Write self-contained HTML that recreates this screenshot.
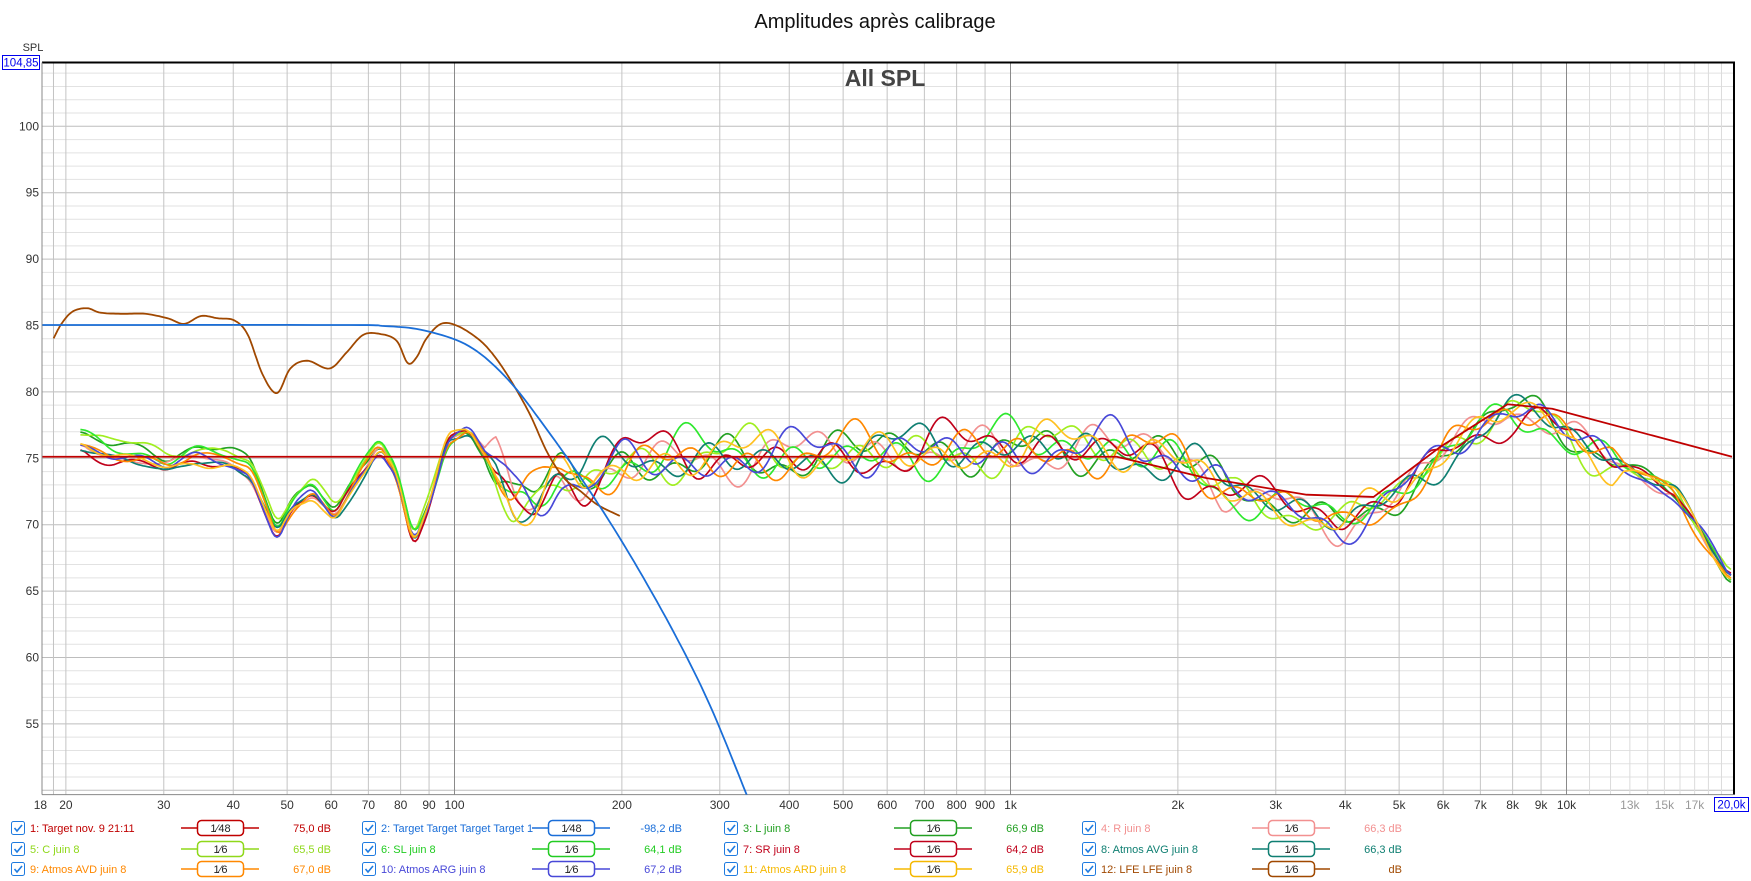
<!DOCTYPE html>
<html><head><meta charset="utf-8"><style>
html,body{margin:0;padding:0;background:#fff;}
svg{display:block;font-family:"Liberation Sans",sans-serif;}
</style></head><body>
<svg id="s" width="1751" height="881" xmlns="http://www.w3.org/2000/svg"></svg>
<script>
const S=document.getElementById('s');
let out='';
const X0=42,X1=1733,Y0=62.5,Y1=794.6;
const fx=f=>454.5+556*(Math.log10(f)-2);
const fy=v=>126.3+(100-v)*13.28;
out+=`<text x="875" y="28" font-size="20" text-anchor="middle" fill="#111">Amplitudes après calibrage</text>`;
for(let v=50;v<=104;v++){const y=fy(v);if(y>Y1-1)continue;out+=`<line x1="${X0}" x2="${X1}" y1="${y}" y2="${y}" stroke="${v%5==0?'#bdbdbd':'#e2e2e2'}" stroke-width="1"/>`;}
let freqs=[];
for(let d of [10,100,1000]){for(let m=1;m<10;m++){const f=m*d;if(f>=18&&f<=10000)freqs.push(f);}}
freqs.push(19);
for(const f of freqs){const x=fx(f);let c=(f==100||f==1000)?'#8a8a8a':'#c4c4c4';out+=`<line x1="${x}" x2="${x}" y1="${Y0}" y2="${Y1}" stroke="${c}"/>`;}
out+=`<line x1="${fx(10000)}" x2="${fx(10000)}" y1="${Y0}" y2="${Y1}" stroke="#8a8a8a"/>`;
for(let f=11000;f<20000;f+=1000){const x=fx(f);out+=`<line x1="${x}" x2="${x}" y1="${Y0}" y2="${Y1}" stroke="#dcdcdc"/>`;}
out+=`<line x1="${X0}" x2="${X1+2}" y1="${Y0}" y2="${Y0}" stroke="#000" stroke-width="2"/>`;
out+=`<line x1="${X0}" x2="${X0}" y1="${Y0}" y2="${Y1}" stroke="#888"/>`;
out+=`<line x1="${X0}" x2="${X1}" y1="${Y1}" y2="${Y1}" stroke="#888"/>`;
out+=`<line x1="${X1+1}" x2="${X1+1}" y1="${Y0}" y2="${Y1}" stroke="#000" stroke-width="2"/>`;
for(let v=55;v<=100;v+=5){out+=`<text x="39" y="${fy(v)+4}" font-size="12" text-anchor="end" fill="#333">${v}</text>`;}
out+=`<text x="33" y="51" font-size="11" text-anchor="middle" fill="#333">SPL</text>`;
out+=`<rect x="2.5" y="55.5" width="37" height="14" fill="#fff" stroke="#0000ee"/><text x="21" y="66.5" font-size="11.5" text-anchor="middle" fill="#0000ee">104,85</text>`;
const xl=[[18,'18'],[20,'20'],[30,'30'],[40,'40'],[50,'50'],[60,'60'],[70,'70'],[80,'80'],[90,'90'],[100,'100'],[200,'200'],[300,'300'],[400,'400'],[500,'500'],[600,'600'],[700,'700'],[800,'800'],[900,'900'],[1000,'1k'],[2000,'2k'],[3000,'3k'],[4000,'4k'],[5000,'5k'],[6000,'6k'],[7000,'7k'],[8000,'8k'],[9000,'9k'],[10000,'10k']];
for(const [f,t] of xl)out+=`<text x="${fx(f)}" y="809" font-size="12" text-anchor="middle" fill="#333">${t}</text>`;
for(const [f,t] of [[13000,'13k'],[15000,'15k'],[17000,'17k']])out+=`<text x="${fx(f)}" y="809" font-size="12" text-anchor="middle" fill="#999">${t}</text>`;
out+=`<rect x="1714.5" y="797.5" width="34" height="14" fill="#fff" stroke="#0000ee"/><text x="1731.5" y="808.5" font-size="11.5" text-anchor="middle" fill="#0000ee">20,0k</text>`;
out+=`<text x="885" y="86" font-size="23" font-weight="bold" text-anchor="middle" fill="#444">All SPL</text>`;
const K=1751/1568;
let g=`<g clip-path="url(#cp)"><g transform="scale(${K})" fill="none" stroke-linejoin="round">`;
function path(pts,col,w){let d='M'+pts.map(p=>p[0].toFixed(1)+','+p[1].toFixed(1)).join(' L');g+=`<path d="${d}" stroke="${col}" stroke-width="${w}"/>`;}
function smooth(ctrl){
 let r=[];for(let i=0;i<ctrl.length-1;i++){const p0=ctrl[Math.max(i-1,0)],p1=ctrl[i],p2=ctrl[i+1],p3=ctrl[Math.min(i+2,ctrl.length-1)];
 for(let t=0;t<1;t+=0.1){const t2=t*t,t3=t2*t;const f=(a,b,c,d)=>0.5*((2*b)+(-a+c)*t+(2*a-5*b+4*c-d)*t2+(-a+3*b-3*c+d)*t3);r.push([f(p0[0],p1[0],p2[0],p3[0]),f(p0[1],p1[1],p2[1],p3[1])]);}}
 r.push(ctrl[ctrl.length-1]);return r;}
const base=[[72,398],[100,410],[130,412],[150,420],[175,410],[205,415],[225,425],[248,482],[262,455],[280,440],[300,465],[320,430],[340,400],[355,425],[370,488],[385,450],[400,395],[420,385],[440,415],[460,450],[480,450],[500,425],[520,435],[560,410],[600,410],[700,410],[800,405],[900,400],[1000,402],[1050,410],[1100,440],[1150,450],[1200,470],[1250,445],[1300,400],[1350,370],[1380,372],[1420,400],[1460,420],[1500,440],[1530,488],[1551,520]];
function bi(x){for(let i=0;i<base.length-1;i++){if(x<=base[i+1][0]){const t=(x-base[i][0])/(base[i+1][0]-base[i][0]);return base[i][1]+t*(base[i+1][1]-base[i][1]);}}return base[base.length-1][1];}
const series=[
 ['#22a022',1,-10,0.3],['#f29090',2,0,1.1],['#a0ee20',3,-12,2.0],['#2ee82e',4,-8,2.7],['#c0001a',5,2,3.4],
 ['#0f7f72',6,2,4.1],['#ff8800',7,-2,4.9],['#4848d8',8,0,5.6],['#ffc020',9,1,6.3]];
for(const [c,seed,off,ph] of series){
 let pts=[];
 for(let x=72;x<=1551;x+=2){
  let a=x<440?0.35:(x<1100?1.5:(x<1450?1.1:0.5));
  let n=Math.sin(x*0.045+ph*3)*7+Math.sin(x*0.13+seed*1.7)*7+Math.sin(x*0.07+seed*2.9)*5+Math.sin(x*0.021+seed)*4;
  let o=x<300?off:off*Math.max(0,1-(x-300)/100);
  pts.push([x,bi(x)+o+n*a]);
 }
 let sm=[];for(let i=0;i<pts.length;i++){let s=0,k=0;for(let j=-2;j<=2;j++){const q=pts[i+j];if(q){s+=q[1];k++;}}sm.push([pts[i][0],s/k]);}
 path(sm,c,1.5);
}
path(smooth([[48,303],[55,290],[65,279],[78,276],[90,280],[110,281],[130,281],[150,285],[165,290],[180,283],[195,285],[210,287],[222,300],[235,335],[248,352],[260,330],[275,323],[295,330],[310,316],[325,300],[340,299],[355,305],[365,325],[373,320],[382,303],[395,290],[410,292],[430,305],[445,322],[460,345],[475,372],[490,405],[505,428],[520,440],[535,452],[555,462]]),'#a04800',1.6);
path([[38,409],[1000,409],[1080,428],[1170,443],[1230,445],[1290,400],[1350,362],[1390,366],[1551,409]],'#c00000',1.6);
path(smooth([[38,291],[300,291],[345,292],[380,296],[420,310],[455,340],[490,385],[525,435],[560,490],[600,560],[635,630],[670,715]]),'#1a6ed8',1.6);
g+='</g></g>';
out+=`<defs><clipPath id="cp"><rect x="${X0}" y="${Y0}" width="${X1-X0}" height="${Y1-Y0}"/></clipPath></defs>`+g;
const leg=[
 [0,0,'1: Target nov. 9 21:11','#c00000','48','75,0 dB'],[1,0,'2: Target Target Target Target 1','#1a6ed8','48','-98,2 dB'],[2,0,'3: L juin 8','#22a022','6','66,9 dB'],[3,0,'4: R juin 8','#f29090','6','66,3 dB'],
 [0,1,'5: C juin 8','#8fd81a','6','65,5 dB'],[1,1,'6: SL juin 8','#22cc22','6','64,1 dB'],[2,1,'7: SR juin 8','#c0001a','6','64,2 dB'],[3,1,'8: Atmos AVG juin 8','#0f7f72','6','66,3 dB'],
 [0,2,'9: Atmos AVD juin 8','#ff8800','6','67,0 dB'],[1,2,'10: Atmos ARG juin 8','#4848d8','6','67,2 dB'],[2,2,'11: Atmos ARD juin 8','#f5b800','6','65,9 dB'],[3,2,'12: LFE LFE juin 8','#a04800','6','dB']];
const cx=[11,362,724,1082],ry=[828,849,869];
for(const [c,r,t,col,sm,val] of leg){const x=cx[c],y=ry[r];
 out+=`<rect x="${x+0.5}" y="${y-6.5}" width="13" height="13" rx="2" fill="#fff" stroke="#1e7be0"/><path d="M${x+3.5},${y} L${x+6},${y+3} L${x+11},${y-3}" stroke="#1e7be0" stroke-width="1.6" fill="none"/>`;
 out+=`<text x="${x+19}" y="${y+4}" font-size="11" fill="${col}">${t}</text>`;
 out+=`<line x1="${x+170}" x2="${x+248}" y1="${y}" y2="${y}" stroke="${col}" stroke-width="1.5"/>`;
 out+=`<rect x="${x+186.5}" y="${y-7.5}" width="46" height="15" rx="4" fill="#fff" stroke="${col}" stroke-width="1.5"/>`;
 out+=`<text x="${x+209.5}" y="${y+4}" font-size="11" text-anchor="middle" fill="#222">1⁄${sm}</text>`;
 out+=`<text x="${x+320}" y="${y+4}" font-size="11" text-anchor="end" fill="${col}">${val}</text>`;}
S.innerHTML=out;
</script>
</body></html>
